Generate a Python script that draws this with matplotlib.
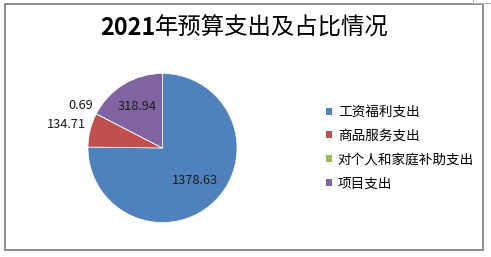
import numpy as np
import matplotlib.pyplot as plt
from matplotlib.patches import Rectangle, Patch
from matplotlib.lines import Line2D

plt.rcParams['font.family'] = ['Noto Sans CJK SC', 'DejaVu Sans']

categories = ['工资福利支出', '商品服务支出', '对个人和家庭补助支出', '项目支出']
values = [1378.63, 134.71, 0.69, 318.94]
value_labels = ['1378.63', '134.71', '0.69', '318.94']
colors = ['#4F81BD', '#C0504D', '#9BBB59', '#8064A2']
label_dist = [0.62, 1.33, 1.24, 0.65]

W, H = 491, 257
fig = plt.figure(figsize=(W / 100, H / 100), dpi=100)

# outer chart frame
fig.patches.append(Rectangle((4.5 / W, 1 - 250 / H), (483 - 4.5) / W, (250 - 3.5) / H,
                             transform=fig.transFigure, fill=False,
                             edgecolor='#8c8c8c', linewidth=1.4))
fig.lines.append(Line2D([473 / W, 473 / W, 1], [1, 1 - 3 / H, 1 - 3 / H],
                        transform=fig.transFigure, color='#b0b0b0', linewidth=0.8))

# pie axes: centre (162.5, 148) px, radius 74.5 px
cx, cy, r = 162.5, 148, 74.5
ax = fig.add_axes([(cx - r) / W, (H - cy - r) / H, 2 * r / W, 2 * r / H])
wedges, _ = ax.pie(values, colors=colors, startangle=90, counterclock=False,
                   radius=1, wedgeprops=dict(edgecolor='white', linewidth=0.5))
ax.set_xlim(-1, 1)
ax.set_ylim(-1, 1)
ax.set_aspect('equal')
ax.axis('off')

for w, txt, d in zip(wedges, value_labels, label_dist):
    ang = np.deg2rad((w.theta1 + w.theta2) / 2)
    ax.text(d * np.cos(ang), d * np.sin(ang), txt, ha='center', va='center',
            fontsize=9.2, color='#1a1a1a', clip_on=False)

# title: bold digits, regular CJK part
t1 = fig.text(100 / W, 1 - 28 / H, '2021', fontsize=16.8, fontweight='bold',
              ha='left', va='center')
fig.canvas.draw()
bb = t1.get_window_extent()
fig.text(bb.x1 / W, 1 - 28 / H, '年预算支出及占比情况', fontsize=16.8,
         ha='left', va='center')

handles = [Patch(facecolor=c, edgecolor='none') for c in colors]
fig.legend(handles, categories, loc='upper left',
           bbox_to_anchor=(326 / W, 1 - 105 / H), frameon=False,
           fontsize=9.8, handlelength=0.42, handleheight=0.42, handletextpad=0.45,
           labelspacing=0.72, borderpad=0, borderaxespad=0)

fig.savefig('out.png', dpi=100)
